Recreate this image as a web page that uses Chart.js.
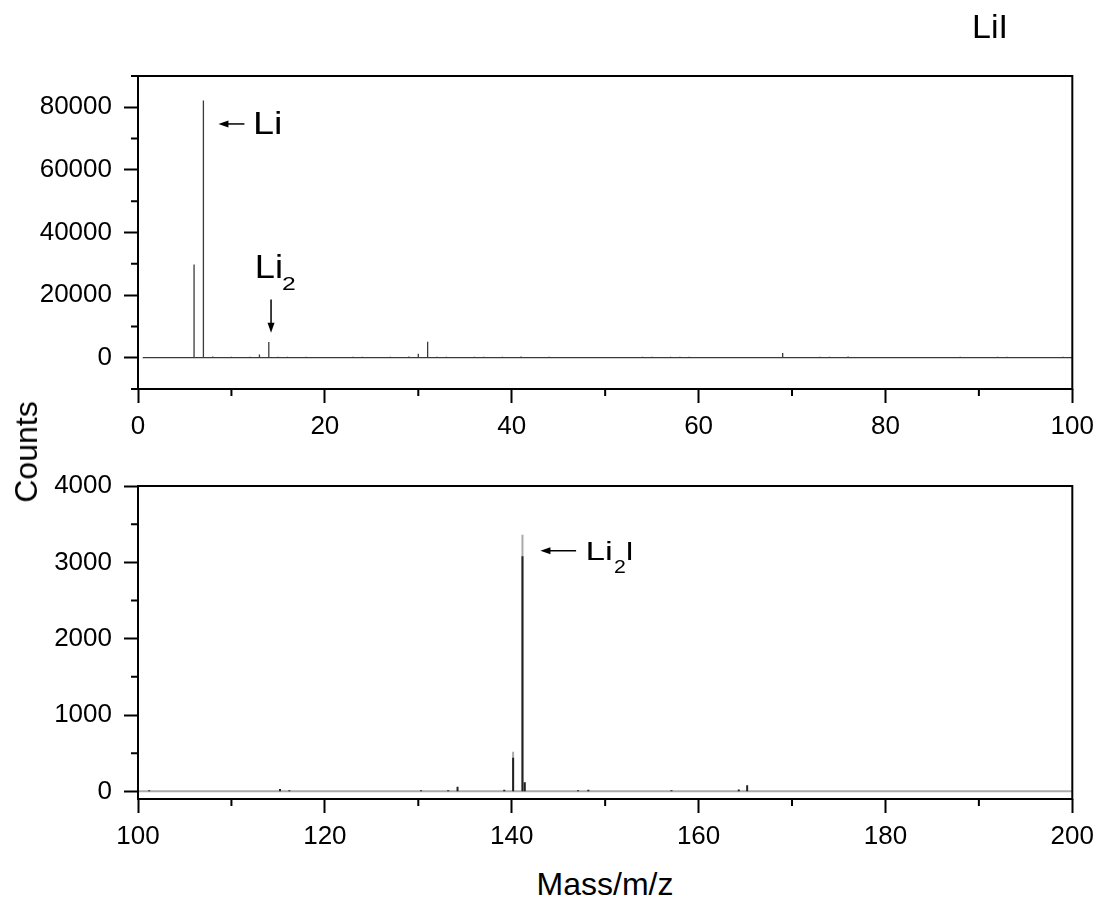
<!DOCTYPE html>
<html>
<head>
<meta charset="utf-8">
<script src="https://cdn.jsdelivr.net/npm/chart.js@4/dist/chart.umd.min.js"></script>
<style>
  html, body { margin: 0; padding: 0; background: #fff; }
  #wrap { position: relative; width: 1102px; height: 903px; overflow: hidden; }
  canvas { position: absolute; left: 0; }
  .lbl { position: absolute; font-family: "Liberation Sans", Arial, sans-serif; color: #000; line-height: 1; white-space: nowrap; }
</style>
</head>
<body>
<div id="wrap">
  <canvas id="topChart" width="1102" height="450" style="top:0"></canvas>
  <canvas id="bottomChart" width="1102" height="400" style="top:450px"></canvas>
  <div class="lbl" style="left:972px;top:9px;font-size:34px">LiI</div>
  <div class="lbl" style="left:26px;top:452px;font-size:32px;transform:translate(-50%,-50%) rotate(-90deg)">Counts</div>
  <div class="lbl" style="left:605px;top:868px;font-size:32px;transform:translateX(-50%)">Mass/m/z</div>
</div>
<script>
const FONT = '"Liberation Sans", Arial, sans-serif';

// upper panel, m/z 0-100
const lowMass   = [6, 7, 8, 10, 12, 13, 14, 15, 16, 18, 23, 24, 27, 29, 30, 31, 32, 33, 36, 37,
                   39, 41, 44, 54, 55, 57, 58, 59, 69, 73, 74, 76, 88, 92, 93, 99];
const lowCounts = [29800, 82200, 400, 300, 300, 1000, 5000, 300, 300, 300, 300, 300, 300, 400, 1300, 5100, 300, 300, 300, 300,
                   300, 400, 300, 300, 300, 300, 300, 300, 1500, 300, 300, 400, 300, 300, 300, 300];
const lowXTicks = [0, 20, 40, 60, 80, 100];
const lowXMinor = [10, 30, 50, 70, 90];
const lowYTicks = [0, 20000, 40000, 60000, 80000];
const lowYMinor = [-10000, 10000, 30000, 50000, 70000, 90000];

// lower panel, m/z 100-200 (black trace over grey trace)
const highMass   = [101.2, 115.2, 116.2, 130.3, 133.2, 134.2, 139.2, 140.15, 141.15, 141.4, 147.1, 148.2, 157.1, 164.3, 165.2];
const highCounts = [15, 30, 15, 15, 15, 60, 20, 440, 3080, 120, 15, 20, 15, 25, 80];
const highMassGrey   = [140.15, 141.15];
const highCountsGrey = [520, 3360];
const highXTicks = [100, 120, 140, 160, 180, 200];
const highXMinor = [110, 130, 150, 170, 190];
const highYTicks = [0, 1000, 2000, 3000, 4000];
const highYMinor = [500, 1500, 2500, 3500];

// labels and arrows, in data units
const lowNotes = [
  { arrow: [11.39, 74680, 8.61, 74680] },
  { arrow: [14.24, 18630, 14.24, 7970] },
  { text: 'Li', x: 12.3, y: 71390, size: 31, sx: 1.22 },
  { text: 'Li', x: 12.5, y: 25430, size: 33, sx: 1.1 },
  { text: '2', x: 15.41, y: 21600, size: 19, sx: 1.3 }
];
const highNotes = [
  { arrow: [146.89, 3152, 143.07, 3152] },
  { text: 'Li', x: 147.9, y: 3031, size: 26, sx: 1.35 },
  { text: '2', x: 150.95, y: 2856, size: 18.5, sx: 1.15 },
  { text: 'I', x: 152.15, y: 3031, size: 26, sx: 1.2 }
];

// stick spectrum: every peak is a vertical line from 0
function sticks(xs, ys, from, to, baseline) {
  const pts = [];
  if (baseline) pts.push({ x: from, y: 0 });
  xs.forEach((m, i) => {
    pts.push({ x: m, y: 0 }, { x: m, y: ys[i] }, { x: m, y: 0 });
    if (!baseline) pts.push({ x: m, y: null });
  });
  if (baseline) pts.push({ x: to, y: 0 });
  return pts;
}

function framePlugin(minorX, minorY, notes) {
  return {
    id: 'frame',
    afterDatasetsDraw(chart) {
      const { ctx, chartArea: a, scales: { x, y } } = chart;
      ctx.save();
      ctx.strokeStyle = '#000';
      ctx.lineWidth = 2;
      ctx.strokeRect(a.left, a.top, a.right - a.left, a.bottom - a.top);
      ctx.beginPath();
      minorX.forEach(v => {
        const px = x.getPixelForValue(v);
        ctx.moveTo(px, a.bottom); ctx.lineTo(px, a.bottom + 7);
      });
      minorY.forEach(v => {
        const py = y.getPixelForValue(v);
        ctx.moveTo(a.left, py); ctx.lineTo(a.left - 7, py);
      });
      ctx.stroke();

      ctx.fillStyle = '#000';
      notes.forEach(n => {
        if (n.arrow) {
          const x1 = x.getPixelForValue(n.arrow[0]), y1 = y.getPixelForValue(n.arrow[1]);
          const x2 = x.getPixelForValue(n.arrow[2]), y2 = y.getPixelForValue(n.arrow[3]);
          const ang = Math.atan2(y2 - y1, x2 - x1);
          const len = 10, half = 3.5;
          ctx.lineWidth = 1.5;
          ctx.beginPath();
          ctx.moveTo(x1, y1);
          ctx.lineTo(x2 - Math.cos(ang) * len * 0.6, y2 - Math.sin(ang) * len * 0.6);
          ctx.stroke();
          ctx.beginPath();
          ctx.moveTo(x2, y2);
          ctx.lineTo(x2 - Math.cos(ang) * len - Math.sin(ang) * half, y2 - Math.sin(ang) * len + Math.cos(ang) * half);
          ctx.lineTo(x2 - Math.cos(ang) * len + Math.sin(ang) * half, y2 - Math.sin(ang) * len - Math.cos(ang) * half);
          ctx.closePath();
          ctx.fill();
        } else {
          ctx.save();
          ctx.translate(x.getPixelForValue(n.x), y.getPixelForValue(n.y));
          ctx.scale(n.sx || 1, 1);
          ctx.font = `${n.size}px ${FONT}`;
          ctx.textBaseline = 'alphabetic';
          ctx.textAlign = 'left';
          ctx.fillText(n.text, 0, 0);
          ctx.restore();
        }
      });
      ctx.restore();
    }
  };
}

function axes(xMin, xMax, xTicks, xHeight, yMin, yMax, yTicks) {
  const tickFont = { family: FONT, size: 26 };
  const grid = { drawOnChartArea: false, drawTicks: true, tickLength: 14, tickWidth: 2, tickColor: '#000', color: '#000' };
  return {
    x: {
      type: 'linear', min: xMin, max: xMax,
      afterBuildTicks: s => { s.ticks = xTicks.map(v => ({ value: v })); },
      afterFit: s => { s.height = xHeight; },
      grid, border: { display: false },
      ticks: { color: '#000', font: tickFont, padding: 8, maxRotation: 0, autoSkip: false, callback: v => String(v) }
    },
    y: {
      type: 'linear', min: yMin, max: yMax,
      afterBuildTicks: s => { s.ticks = yTicks.map(v => ({ value: v })); },
      afterFit: s => { s.width = 138; },
      grid, border: { display: false },
      ticks: { color: '#000', font: tickFont, padding: 12, autoSkip: false, callback: v => String(v) }
    }
  };
}

const common = {
  responsive: false,
  animation: false,
  devicePixelRatio: 1,
  elements: { point: { radius: 0 }, line: { tension: 0, borderJoinStyle: 'bevel' } },
  plugins: { legend: { display: false }, tooltip: { enabled: false } }
};

new Chart(document.getElementById('topChart').getContext('2d'), {
  type: 'line',
  data: {
    datasets: [{
      data: sticks(lowMass, lowCounts, 0.5, 100, true),
      borderColor: '#3a3a3a', borderWidth: 1.3, spanGaps: false
    }]
  },
  options: {
    ...common,
    layout: { padding: { top: 76, right: 28, left: 0, bottom: 0 } },
    scales: axes(0, 100, lowXTicks, 61, -10000, 90000, lowYTicks)
  },
  plugins: [framePlugin(lowXMinor, lowYMinor, lowNotes)]
});

new Chart(document.getElementById('bottomChart').getContext('2d'), {
  type: 'line',
  data: {
    datasets: [{
      // first dataset is drawn on top
      data: sticks(highMass, highCounts, 100, 200, false),
      borderColor: '#222222', borderWidth: 2, spanGaps: false
    }, {
      data: sticks(highMassGrey, highCountsGrey, 100, 200, true),
      borderColor: '#aaaaaa', borderWidth: 2, spanGaps: false
    }]
  },
  options: {
    ...common,
    layout: { padding: { top: 36, right: 28, left: 0, bottom: 0 } },
    scales: axes(100, 200, highXTicks, 51, -100, 4000, highYTicks)
  },
  plugins: [framePlugin(highXMinor, highYMinor, highNotes)]
});
</script>
</body>
</html>
